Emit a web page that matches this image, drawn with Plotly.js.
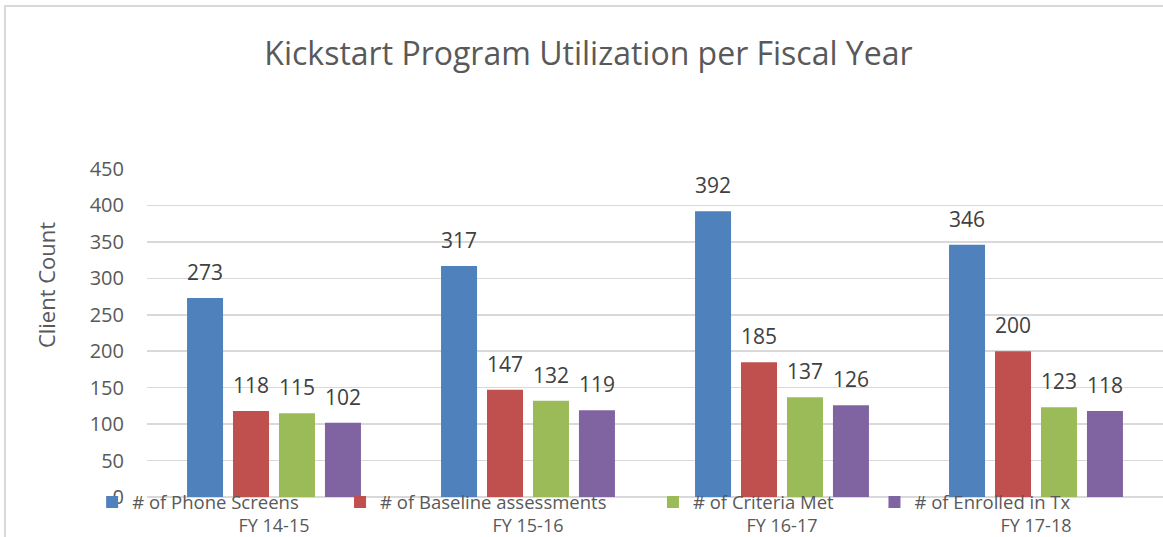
<!DOCTYPE html>
<html>
<head>
<meta charset="utf-8">
<script src="https://cdn.plot.ly/plotly-3.0.1.min.js"></script>
<style>
  html, body { margin: 0; padding: 0; background: #ffffff; }
  #chart { width: 1163px; height: 537px; }
</style>
</head>
<body>
<div id="chart"></div>
<script>
// ---- data ----
const categories = ["FY 14-15", "FY 15-16", "FY 16-17", "FY 17-18"];
const seriesNames = ["# of Phone Screens", "# of Baseline assessments", "# of Criteria Met", "# of Enrolled in Tx"];
const phoneScreens = [273, 317, 392, 346];
const baselineAssessments = [118, 147, 185, 200];
const criteriaMet = [115, 132, 137, 123];
const enrolledInTx = [102, 119, 126, 118];
const yTickValues = [0, 50, 100, 150, 200, 250, 300, 350, 400, 450];

// ---- styling ----
const colors = ["#4f81bd", "#c0504d", "#9bbb59", "#8064a2"];
const FONT = "Open Sans, Lato, sans-serif";
const TEXT = "#595959";
const LABEL = "#404040";

const allSeries = [phoneScreens, baselineAssessments, criteriaMet, enrolledInTx];
const legendKeys = ["legend", "legend2", "legend3", "legend4"];
const legendX = [-0.054, 0.19, 0.498, 0.716];

// plot geometry (px) for label offsets
const plotW = 1016;
const catW = plotW / categories.length;
const bargap = 0.276;
const slotW = catW * (1 - bargap) / allSeries.length;

const traces = allSeries.map((vals, i) => ({
  type: "bar",
  name: seriesNames[i],
  x: categories,
  y: vals,
  marker: { color: colors[i] },
  legend: legendKeys[i],
  hoverinfo: "x+y+name"
}));

const annotations = [];
allSeries.forEach((vals, i) => {
  vals.forEach((v, j) => {
    annotations.push({
      x: categories[j], y: v, xref: "x", yref: "y",
      text: String(v), showarrow: false,
      xanchor: "center", yanchor: "bottom",
      xshift: (i - (allSeries.length - 1) / 2) * slotW,
      yshift: 10,
      font: { family: FONT, size: 21, color: LABEL }
    });
  });
});
annotations.push({
  xref: "paper", yref: "paper", x: -0.0994, y: 0.646,
  text: "Client Count", textangle: -90, showarrow: false,
  xanchor: "center", yanchor: "middle",
  font: { family: FONT, size: 22, color: TEXT }
});

const layout = {
  width: 1163, height: 537,
  margin: { l: 147, r: 0, t: 169, b: 40 },
  paper_bgcolor: "#ffffff", plot_bgcolor: "#ffffff",
  font: { family: FONT, color: TEXT },
  title: {
    text: "Kickstart Program Utilization per Fiscal Year",
    x: 0.506, xref: "container", xanchor: "center",
    y: 0.9, yref: "container", yanchor: "middle",
    font: { family: FONT, size: 32, color: TEXT }
  },
  barmode: "group",
  bargap: bargap,
  bargroupgap: 0.217,
  xaxis: {
    type: "category",
    range: [-0.5, 3.5],
    showgrid: false, showline: false, zeroline: false,
    ticks: "", ticklabelstandoff: 16,
    tickfont: { family: FONT, size: 18, color: TEXT },
    fixedrange: true
  },
  yaxis: {
    range: [0, 450],
    tickvals: yTickValues,
    ticktext: yTickValues.map(String),
    showgrid: true, gridcolor: "#d9d9d9", gridwidth: 1.5,
    zeroline: true, zerolinecolor: "#d9d9d9", zerolinewidth: 1.5,
    showline: false, ticks: "", ticklabelstandoff: 22,
    tickfont: { family: FONT, size: 20, color: TEXT },
    fixedrange: true
  },
  showlegend: true,
  annotations: annotations,
  shapes: [{
    type: "path", xref: "paper", yref: "paper",
    path: "M -0.1398,-0.2 L -0.1398,1.497 L 1.05,1.497",
    line: { color: "#d9d9d9", width: 2 }
  }]
};
legendKeys.forEach((k, i) => {
  layout[k] = {
    orientation: "h", x: legendX[i], xanchor: "left",
    y: -0.017, yanchor: "middle",
    bgcolor: "rgba(0,0,0,0)", borderwidth: 0,
    font: { family: FONT, size: 18.5, color: TEXT },
    itemclick: false, itemdoubleclick: false
  };
});

Plotly.newPlot("chart", traces, layout, { displayModeBar: false, staticPlot: true });
</script>
</body>
</html>
